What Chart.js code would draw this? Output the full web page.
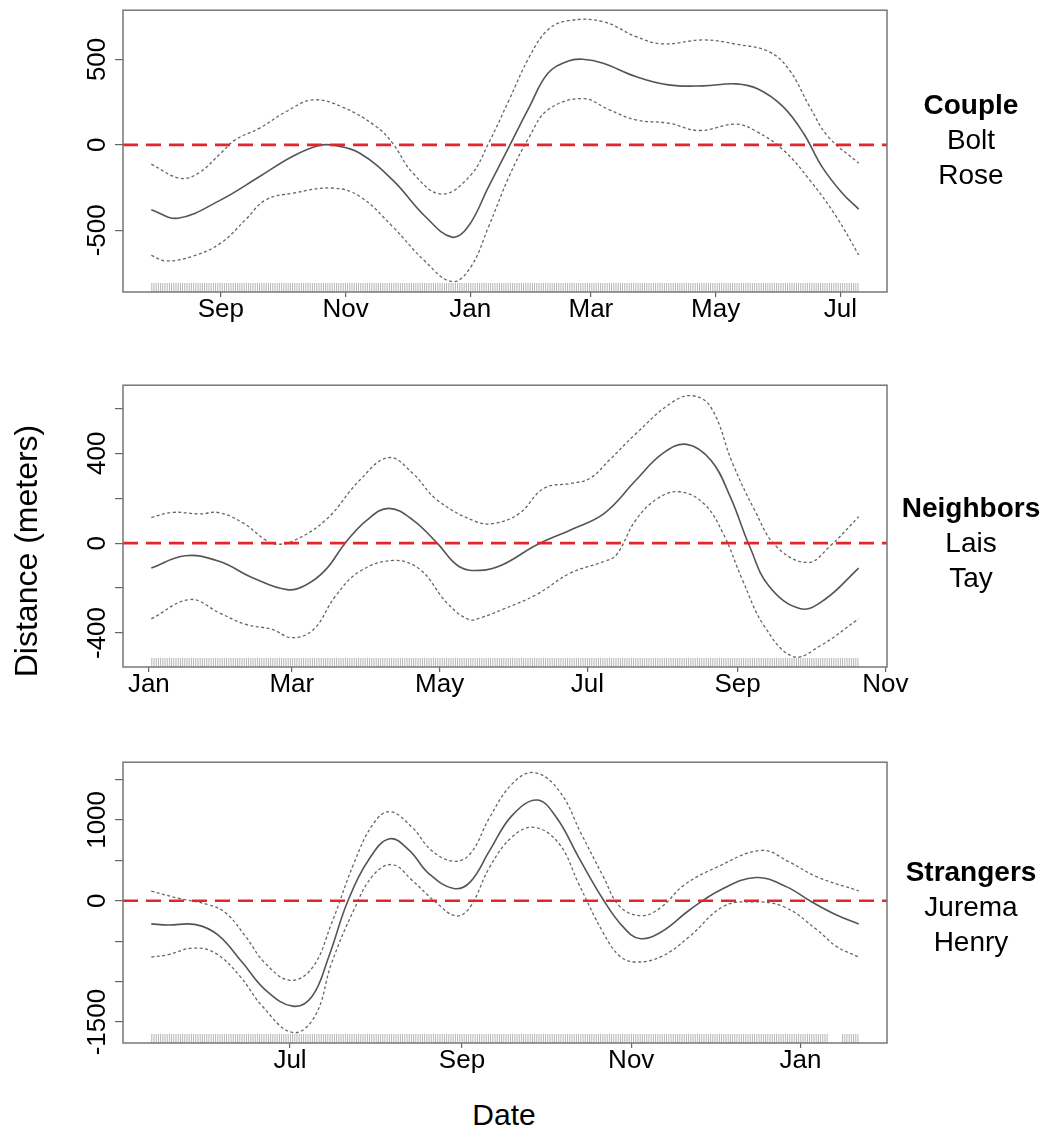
<!DOCTYPE html>
<html>
<head>
<meta charset="utf-8">
<script src="https://cdn.jsdelivr.net/npm/chart.js@4.4.0/dist/chart.umd.min.js"></script>
<style>
  body { margin: 0; background: #fff; width: 1047px; height: 1128px; position: relative; overflow: hidden;
         font-family: "Liberation Sans", Arial, sans-serif; color: #000; }
  canvas { position: absolute; left: 0; }
  .tag { position: absolute; left: 881px; width: 180px; text-align: center; font-size: 28px; line-height: 35px; }
  .tag b { font-weight: bold; }
  #ytitle { position: absolute; left: -174px; top: 531px; width: 400px; height: 40px; line-height: 40px;
            text-align: center; font-size: 32px; transform: rotate(-90deg); }
  #xtitle { position: absolute; left: 404px; top: 1097px; width: 200px; text-align: center; font-size: 30px; line-height: 36px; }
</style>
</head>
<body>
<canvas id="c1" width="1047" height="340" style="top:0px"></canvas>
<canvas id="c2" width="1047" height="340" style="top:375px"></canvas>
<canvas id="c3" width="1047" height="340" style="top:752px"></canvas>

<div class="tag" style="top:87px"><b>Couple</b><br>Bolt<br>Rose</div>
<div class="tag" style="top:490px"><b>Neighbors</b><br>Lais<br>Tay</div>
<div class="tag" style="top:854px"><b>Strangers</b><br>Jurema<br>Henry</div>
<div id="ytitle">Distance (meters)</div>
<div id="xtitle">Date</div>

<script>
// Couple (Bolt / Rose) - days counted from 1 Sep
const coupleMidDays = [-34, -21, 0, 19, 35, 48, 56, 68, 84, 100, 113, 121, 131, 141, 151, 160, 170, 177, 187, 203, 219, 236, 252, 263, 275, 285, 294, 304, 312];
const coupleMid = [-380, -429, -322, -185, -68, -4, -4, -49, -205, -419, -540, -478, -244, -10, 224, 419, 491, 501, 478, 400, 351, 345, 357, 326, 224, 68, -127, -283, -376];
const coupleUpDays = [-34, -20, -11, 0, 7, 19, 32, 45, 59, 76, 84, 94, 108, 122, 131, 141, 151, 160, 170, 187, 203, 216, 236, 252, 268, 278, 288, 297, 312];
const coupleUp = [-113, -195, -166, -49, 29, 98, 195, 263, 224, 107, 10, -166, -288, -180, 10, 263, 517, 673, 727, 721, 634, 591, 614, 589, 546, 439, 224, 49, -107];
const coupleLoDays = [-34, -27, -14, 0, 12, 22, 35, 55, 68, 84, 100, 113, 122, 131, 141, 151, 160, 177, 190, 203, 219, 234, 252, 262, 275, 288, 301, 312];
const coupleLo = [-647, -679, -653, -575, -439, -322, -283, -253, -302, -478, -683, -800, -720, -478, -185, 49, 205, 271, 205, 146, 127, 84, 121, 78, -29, -205, -419, -644];
const coupleRug = [[-34, 312]];
const coupleXTicks = [0, 61, 122, 181, 242, 303];
const coupleXLabels = ['Sep', 'Nov', 'Jan', 'Mar', 'May', 'Jul'];
const coupleYTicks = [-500, 0, 500];
const coupleYLabels = [-500, 0, 500];

// Neighbors (Lais / Tay) - days counted from 1 Jan
const neighMidDays = [1, 15, 29, 43, 57, 65, 73, 81, 90, 99, 109, 119, 128, 137, 146, 160, 174, 188, 201, 212, 222, 232, 240, 248, 256, 269, 279, 293];
const neighMid = [-111, -56, -81, -155, -207, -185, -118, 0, 103, 155, 103, 0, -104, -121, -96, -8, 59, 133, 280, 399, 440, 369, 206, -15, -192, -292, -251, -111];
const neighUpDays = [1, 10, 21, 29, 39, 48, 52, 59, 73, 87, 99, 109, 119, 135, 143, 153, 163, 174, 182, 190, 201, 215, 224, 232, 241, 250, 259, 272, 281, 293];
const neighUp = [115, 137, 130, 136, 89, 15, -4, 7, 103, 280, 381, 310, 192, 96, 89, 133, 244, 266, 288, 369, 487, 620, 657, 605, 354, 148, -15, -86, -15, 118];
const neighLoDays = [1, 17, 29, 40, 51, 59, 68, 77, 87, 101, 112, 123, 132, 137, 146, 160, 174, 188, 193, 201, 210, 219, 229, 237, 245, 254, 266, 277, 293];
const neighLo = [-337, -251, -310, -362, -384, -421, -384, -236, -126, -77, -118, -266, -340, -332, -295, -229, -133, -81, -52, 103, 199, 229, 177, 44, -163, -369, -505, -458, -337];
const neighRug = [[1, 293]];
const neighXTicks = [0, 59, 120, 181, 243, 304];
const neighXLabels = ['Jan', 'Mar', 'May', 'Jul', 'Sep', 'Nov'];
const neighYTicks = [-400, -200, 0, 200, 400, 600];
const neighYLabels = [-400, 0, 400];

// Strangers (Jurema / Henry) - days counted from 1 Jul
const strangMidDays = [-50, -44, -34, -26, -17, -9, 1, 8, 14, 21, 29, 36, 43, 50, 59, 65, 72, 80, 89, 96, 104, 113, 120, 126, 134, 144, 155, 168, 179, 188, 197, 205];
const strangMid = [-286, -299, -295, -422, -770, -1098, -1303, -1180, -688, 9, 541, 767, 623, 337, 152, 234, 623, 1053, 1246, 1032, 541, 9, -320, -467, -381, -114, 131, 288, 172, -12, -176, -286];
const strangUpDays = [-50, -40, -29, -23, -16, -9, 0, 8, 15, 23, 30, 36, 44, 51, 59, 65, 72, 80, 88, 97, 105, 113, 119, 127, 134, 142, 154, 170, 180, 190, 205];
const strangUp = [119, 29, -53, -155, -442, -770, -983, -831, -278, 460, 951, 1102, 909, 623, 488, 582, 1032, 1443, 1585, 1361, 828, 295, -74, -184, -74, 193, 418, 623, 479, 295, 123];
const strangLoDays = [-50, -44, -35, -27, -18, -10, 1, 9, 15, 23, 30, 37, 44, 53, 60, 65, 72, 80, 88, 97, 104, 113, 119, 125, 134, 144, 156, 166, 178, 190, 197, 205];
const strangLo = [-696, -667, -585, -646, -934, -1303, -1630, -1426, -770, -114, 316, 447, 254, -32, -188, -74, 418, 787, 909, 705, 214, -401, -688, -757, -688, -442, -74, -12, -74, -360, -565, -696];
const strangRug = [[-50, 194], [199, 205]];
const strangXTicks = [0, 62, 123, 184];
const strangXLabels = ['Jul', 'Sep', 'Nov', 'Jan'];
const strangYTicks = [-1500, -1000, -500, 0, 500, 1000, 1500];
const strangYLabels = [-1500, 0, 1000];

const FONT = '"Liberation Sans", Arial, sans-serif';

function pts(xs, ys) {
  return xs.map((x, i) => ({ x: x, y: ys[i] }));
}

// R-style range: data extent plus 4% each side
function padRange(arrs) {
  const all = [].concat(...arrs);
  const lo = Math.min(...all), hi = Math.max(...all);
  const d = (hi - lo) * 0.04;
  return [lo - d, hi + d];
}

const framePlugin = {
  id: 'frame',
  afterDraw(chart, args, opts) {
    const { ctx, chartArea: a } = chart;
    const ys = chart.scales.y;
    ctx.save();
    ctx.strokeStyle = '#777';
    ctx.lineWidth = 1.5;
    ctx.strokeRect(a.left, a.top, a.right - a.left, a.bottom - a.top);
    ctx.fillStyle = '#000';
    ctx.font = '26px ' + FONT;
    ctx.textAlign = 'center';
    ctx.textBaseline = 'alphabetic';
    opts.labels.forEach(v => {
      ctx.save();
      ctx.translate(a.left - 18, ys.getPixelForValue(v));
      ctx.rotate(-Math.PI / 2);
      ctx.fillText(String(v), 0, 0);
      ctx.restore();
    });
    ctx.restore();
  }
};

function makePanel(id, p) {
  const [xMin, xMax] = padRange([p.midDays, p.upDays, p.loDays]);
  const [yMin, yMax] = padRange([p.mid, p.up, p.lo]);

  const rugData = [];
  p.rug.forEach(r => {
    rugData.push({ x: r[0], y: yMin }, { x: r[1], y: yMin }, { x: r[1], y: null });
  });

  const curve = { pointRadius: 0, tension: 0.4, fill: false };

  new Chart(document.getElementById(id), {
    type: 'line',
    data: {
      datasets: [
        { data: [{ x: xMin, y: 0 }, { x: xMax, y: 0 }], borderColor: '#e3262b', borderWidth: 2.6,
          borderDash: [15, 8], pointRadius: 0 },
        { ...curve, data: pts(p.midDays, p.mid), borderColor: '#555', borderWidth: 1.6 },
        { ...curve, data: pts(p.upDays, p.up), borderColor: '#666', borderWidth: 1.3, borderDash: [3, 2.5] },
        { ...curve, data: pts(p.loDays, p.lo), borderColor: '#666', borderWidth: 1.3, borderDash: [3, 2.5] },
        { data: rugData, borderColor: 'rgba(150,150,150,0.7)', borderWidth: 18, borderDash: [1, 1.2],
          pointRadius: 0, clip: 0, spanGaps: false }
      ]
    },
    options: {
      responsive: false,
      animation: false,
      devicePixelRatio: 1,
      layout: { padding: { top: 10, right: 160, left: 0, bottom: 0 } },
      plugins: { legend: { display: false }, tooltip: { enabled: false }, frame: { labels: p.yLabels } },
      scales: {
        x: {
          type: 'linear', min: xMin, max: xMax,
          afterBuildTicks: s => { s.ticks = p.xTicks.map(v => ({ value: v })); },
          afterFit: s => { s.height = p.xHeight; },
          ticks: { autoSkip: false, maxRotation: 0, padding: 0, color: '#000',
                   font: { size: 26, family: FONT, lineHeight: 1 },
                   callback: (v, i) => p.xLabels[i] },
          grid: { drawOnChartArea: false, tickLength: 5, color: '#666', lineWidth: 1.2 },
          border: { display: false }
        },
        y: {
          type: 'linear', min: yMin, max: yMax,
          afterBuildTicks: s => { s.ticks = p.yTicks.map(v => ({ value: v })); },
          afterFit: s => { s.width = 123; },
          ticks: { callback: () => '' },
          grid: { drawOnChartArea: false, tickLength: 8, color: '#666', lineWidth: 1.2 },
          border: { display: false }
        }
      }
    },
    plugins: [framePlugin]
  });
}

makePanel('c1', { midDays: coupleMidDays, mid: coupleMid, upDays: coupleUpDays, up: coupleUp,
  loDays: coupleLoDays, lo: coupleLo, rug: coupleRug, xTicks: coupleXTicks, xLabels: coupleXLabels,
  yTicks: coupleYTicks, yLabels: coupleYLabels, xHeight: 48 });
makePanel('c2', { midDays: neighMidDays, mid: neighMid, upDays: neighUpDays, up: neighUp,
  loDays: neighLoDays, lo: neighLo, rug: neighRug, xTicks: neighXTicks, xLabels: neighXLabels,
  yTicks: neighYTicks, yLabels: neighYLabels, xHeight: 48 });
makePanel('c3', { midDays: strangMidDays, mid: strangMid, upDays: strangUpDays, up: strangUp,
  loDays: strangLoDays, lo: strangLo, rug: strangRug, xTicks: strangXTicks, xLabels: strangXLabels,
  yTicks: strangYTicks, yLabels: strangYLabels, xHeight: 49 });
</script>
</body>
</html>
